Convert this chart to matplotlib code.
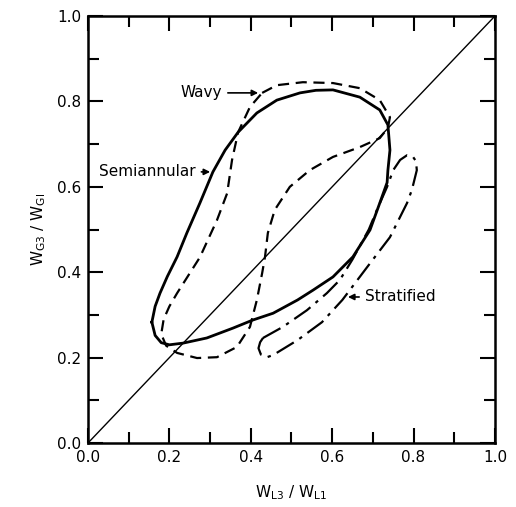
import matplotlib
matplotlib.use("Agg")
from matplotlib import pyplot as plt
from matplotlib.ticker import MultipleLocator

# semiannular (solid loop)
semi_x = [0.157, 0.165, 0.177, 0.195, 0.219, 0.243, 0.275, 0.307, 0.337, 0.369,
          0.415, 0.464, 0.521, 0.56, 0.602, 0.668, 0.717, 0.737, 0.742, 0.737,
          0.735, 0.717, 0.693, 0.651, 0.602, 0.553, 0.515, 0.455, 0.405, 0.356,
          0.292, 0.234, 0.20, 0.18, 0.165, 0.157]
semi_y = [0.283, 0.32, 0.351, 0.39, 0.436, 0.492, 0.562, 0.635, 0.686, 0.728,
          0.773, 0.803, 0.82, 0.826, 0.827, 0.81, 0.78, 0.745, 0.686, 0.639,
          0.61, 0.562, 0.499, 0.436, 0.389, 0.358, 0.335, 0.304, 0.288, 0.269,
          0.246, 0.234, 0.23, 0.235, 0.252, 0.283]

# wavy (dashed loop)
wavy_x = [0.428, 0.464, 0.528, 0.602, 0.668, 0.717, 0.742, 0.737, 0.717, 0.668,
          0.602, 0.545, 0.496, 0.459, 0.442, 0.435, 0.428, 0.415, 0.398, 0.366,
          0.317, 0.268, 0.219, 0.192, 0.18, 0.186, 0.2, 0.219, 0.245, 0.275,
          0.317, 0.342, 0.354, 0.369, 0.398, 0.428]
wavy_y = [0.82, 0.838, 0.845, 0.843, 0.831, 0.803, 0.763, 0.738, 0.714, 0.693,
          0.67, 0.639, 0.60, 0.546, 0.492, 0.436, 0.398, 0.335, 0.272, 0.225,
          0.201, 0.199, 0.211, 0.228, 0.255, 0.29, 0.32, 0.351, 0.39, 0.435,
          0.522, 0.585, 0.663, 0.728, 0.787, 0.82]

# stratified (dash-dot loop)
strat_x = [0.43, 0.479, 0.538, 0.587, 0.619, 0.65, 0.69, 0.71, 0.735, 0.75,
           0.767, 0.784, 0.798, 0.806, 0.808, 0.796, 0.784, 0.742, 0.686, 0.625,
           0.575, 0.515, 0.455, 0.44, 0.425, 0.419, 0.423, 0.43]
strat_y = [0.246, 0.272, 0.311, 0.351, 0.382, 0.43, 0.50, 0.546, 0.60, 0.639,
           0.663, 0.674, 0.671, 0.66, 0.639, 0.593, 0.562, 0.482, 0.412, 0.335,
           0.283, 0.241, 0.206, 0.201, 0.207, 0.222, 0.236, 0.246]

plt.rcParams["font.family"] = ["DejaVu Sans"]

fig = plt.figure(figsize=(5.16, 5.07), dpi=100)
ax = fig.add_axes([0.1705, 0.1262, 0.7887, 0.8422])

ax.plot([0, 1], [0, 1], color="black", lw=1.0)
ax.plot(semi_x, semi_y, color="black", lw=2.0, solid_joinstyle="round")
ax.plot(wavy_x, wavy_y, color="black", lw=1.6, linestyle=(0, (5, 3)))
ax.plot(strat_x, strat_y, color="black", lw=1.6, linestyle=(0, (9, 3, 1.5, 3)))

arrow = dict(arrowstyle="-|>", color="black", lw=1.2, mutation_scale=9)
ax.annotate("Wavy", xy=(0.425, 0.82), xytext=(0.33, 0.82), fontsize=11,
            ha="right", va="center", arrowprops=arrow)
ax.annotate("Semiannular", xy=(0.307, 0.635), xytext=(0.265, 0.635), fontsize=11,
            ha="right", va="center", arrowprops=arrow)
ax.annotate("Stratified", xy=(0.632, 0.342), xytext=(0.68, 0.342), fontsize=11,
            ha="left", va="center", arrowprops=arrow)

ax.set_xlim(0, 1)
ax.set_ylim(0, 1)
ax.xaxis.set_major_locator(MultipleLocator(0.2))
ax.yaxis.set_major_locator(MultipleLocator(0.2))
ax.xaxis.set_minor_locator(MultipleLocator(0.1))
ax.yaxis.set_minor_locator(MultipleLocator(0.1))
ax.xaxis.set_major_formatter(lambda v, p: f"{v:.1f}")
ax.yaxis.set_major_formatter(lambda v, p: f"{v:.1f}")
ax.tick_params(which="both", direction="in", top=True, right=True,
               labelsize=11, width=1.5)
ax.tick_params(which="major", length=11, pad=5)
ax.tick_params(which="minor", length=8)
for s in ax.spines.values():
    s.set_linewidth(1.8)

ax.set_xlabel(r"W$_{\mathregular{L3}}$ / W$_{\mathregular{L1}}$", fontsize=11, labelpad=13)
ax.set_ylabel(r"W$_{\mathregular{G3}}$ / W$_{\mathregular{GI}}$", fontsize=11, labelpad=6)

fig.savefig("out.png", dpi=100)
